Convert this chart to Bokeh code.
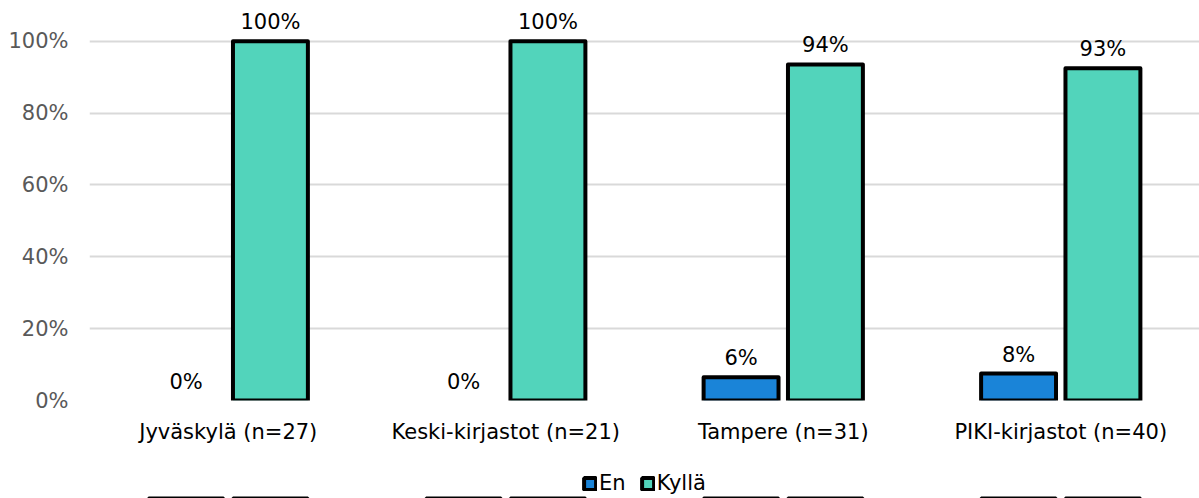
from bokeh.plotting import figure
from bokeh.layouts import column
from bokeh.models import (ColumnDataSource, FactorRange, FixedTicker, NumeralTickFormatter,
                          Legend, LegendItem, Range1d)
from bokeh.core.properties import value
from bokeh.transform import dodge
from bokeh.embed import file_html
from bokeh.resources import INLINE

categories = ["Jyväskylä (n=27)", "Keski-kirjastot (n=21)", "Tampere (n=31)", "PIKI-kirjastot (n=40)"]
series_names = ["En", "Kyllä"]
en_values = [0.0, 0.0, 0.0645, 0.075]
kylla_values = [1.0, 1.0, 0.9355, 0.925]
en_labels = ["0%", "0%", "6%", "8%"]
kylla_labels = ["100%", "100%", "94%", "93%"]
y_ticks = [0, 0.2, 0.4, 0.6, 0.8, 1.0]

FONT = "DejaVu Sans"
FS = "21px"
EN_COLOR = "#1a84d8"
KY_COLOR = "#52d4bb"

src = ColumnDataSource(dict(
    cat=categories,
    en=en_values,
    ky=kylla_values,
    en_lab=en_labels,
    ky_lab=kylla_labels,
    en_line=[0.0 if v == 0 else 1.0 for v in en_values],
    ky_line=[0.0 if v == 0 else 1.0 for v in kylla_values],
))

p = figure(width=1199, height=452, x_range=FactorRange(*categories),
           y_range=Range1d(0, 1.08), output_backend="svg", toolbar_location=None,
           min_border_left=89, min_border_right=0, min_border_top=12, min_border_bottom=52)
p.outline_line_color = None
p.background_fill_color = "white"

off = 0.152
w = 0.27
p.vbar(x=dodge("cat", -off, range=p.x_range), top="en", bottom=0, width=w, source=src,
       fill_color=EN_COLOR, line_color="black", line_width=4, line_alpha="en_line",
       line_join="round")
p.vbar(x=dodge("cat", off, range=p.x_range), top="ky", bottom=0, width=w, source=src,
       fill_color=KY_COLOR, line_color="black", line_width=4, line_alpha="ky_line",
       line_join="round")

p.text(x=dodge("cat", -off, range=p.x_range), y="en", text="en_lab", source=src,
       text_align="center", text_baseline="bottom", y_offset=-7,
       text_font=value(FONT), text_font_size=FS, text_color="#000000")
p.text(x=dodge("cat", off, range=p.x_range), y="ky", text="ky_lab", source=src,
       text_align="center", text_baseline="bottom", y_offset=-7,
       text_font=value(FONT), text_font_size=FS, text_color="#000000")

# axes
p.yaxis.ticker = FixedTicker(ticks=y_ticks)
p.yaxis.formatter = NumeralTickFormatter(format="0%")
p.yaxis.axis_line_color = None
p.yaxis.major_tick_line_color = None
p.yaxis.minor_tick_line_color = None
p.yaxis.major_tick_out = 0
p.yaxis.major_tick_in = 0
p.yaxis.major_label_text_font = FONT
p.yaxis.major_label_text_font_size = FS
p.yaxis.major_label_text_color = "#595959"
p.yaxis.major_label_standoff = 21

p.xaxis.axis_line_color = None
p.xaxis.major_tick_line_color = None
p.xaxis.major_tick_out = 0
p.xaxis.major_tick_in = 0
p.xaxis.major_label_text_font = FONT
p.xaxis.major_label_text_font_size = FS
p.xaxis.major_label_text_color = "#000000"
p.xaxis.major_label_standoff = 19

p.xgrid.grid_line_color = None
p.ygrid.grid_line_color = "#d9d9d9"
p.ygrid.grid_line_width = 2
p.ygrid.ticker = FixedTicker(ticks=y_ticks)

# legend strip below the chart (its bars lie outside the strip's visible range)
pl = figure(width=1199, height=46, x_range=p.x_range, y_range=Range1d(5, 6),
            output_backend="svg", toolbar_location=None, x_axis_type=None, y_axis_type=None,
            min_border_left=89, min_border_right=0, min_border_top=0, min_border_bottom=0)
pl.outline_line_color = None
pl.xgrid.grid_line_color = None
pl.ygrid.grid_line_color = None
lg_en = pl.vbar(x=dodge("cat", -off, range=p.x_range), top="en", bottom=0, width=w, source=src,
                fill_color=EN_COLOR, line_color="black", line_width=4)
lg_ky = pl.vbar(x=dodge("cat", off, range=p.x_range), top="ky", bottom=0, width=w, source=src,
                fill_color=KY_COLOR, line_color="black", line_width=4)

legend = Legend(items=[LegendItem(label=series_names[0], renderers=[lg_en], index=2),
                       LegendItem(label=series_names[1], renderers=[lg_ky], index=0)],
                orientation="horizontal", location="bottom_center",
                label_text_font=FONT, label_text_font_size=FS, label_text_color="#000000",
                glyph_width=15, glyph_height=15, label_standoff=2, spacing=14,
                border_line_color=None, background_fill_alpha=0, padding=0, margin=3)
pl.add_layout(legend, "center")

layout = column(p, pl, spacing=0)
open("out.html", "w").write(file_html(layout, INLINE))
